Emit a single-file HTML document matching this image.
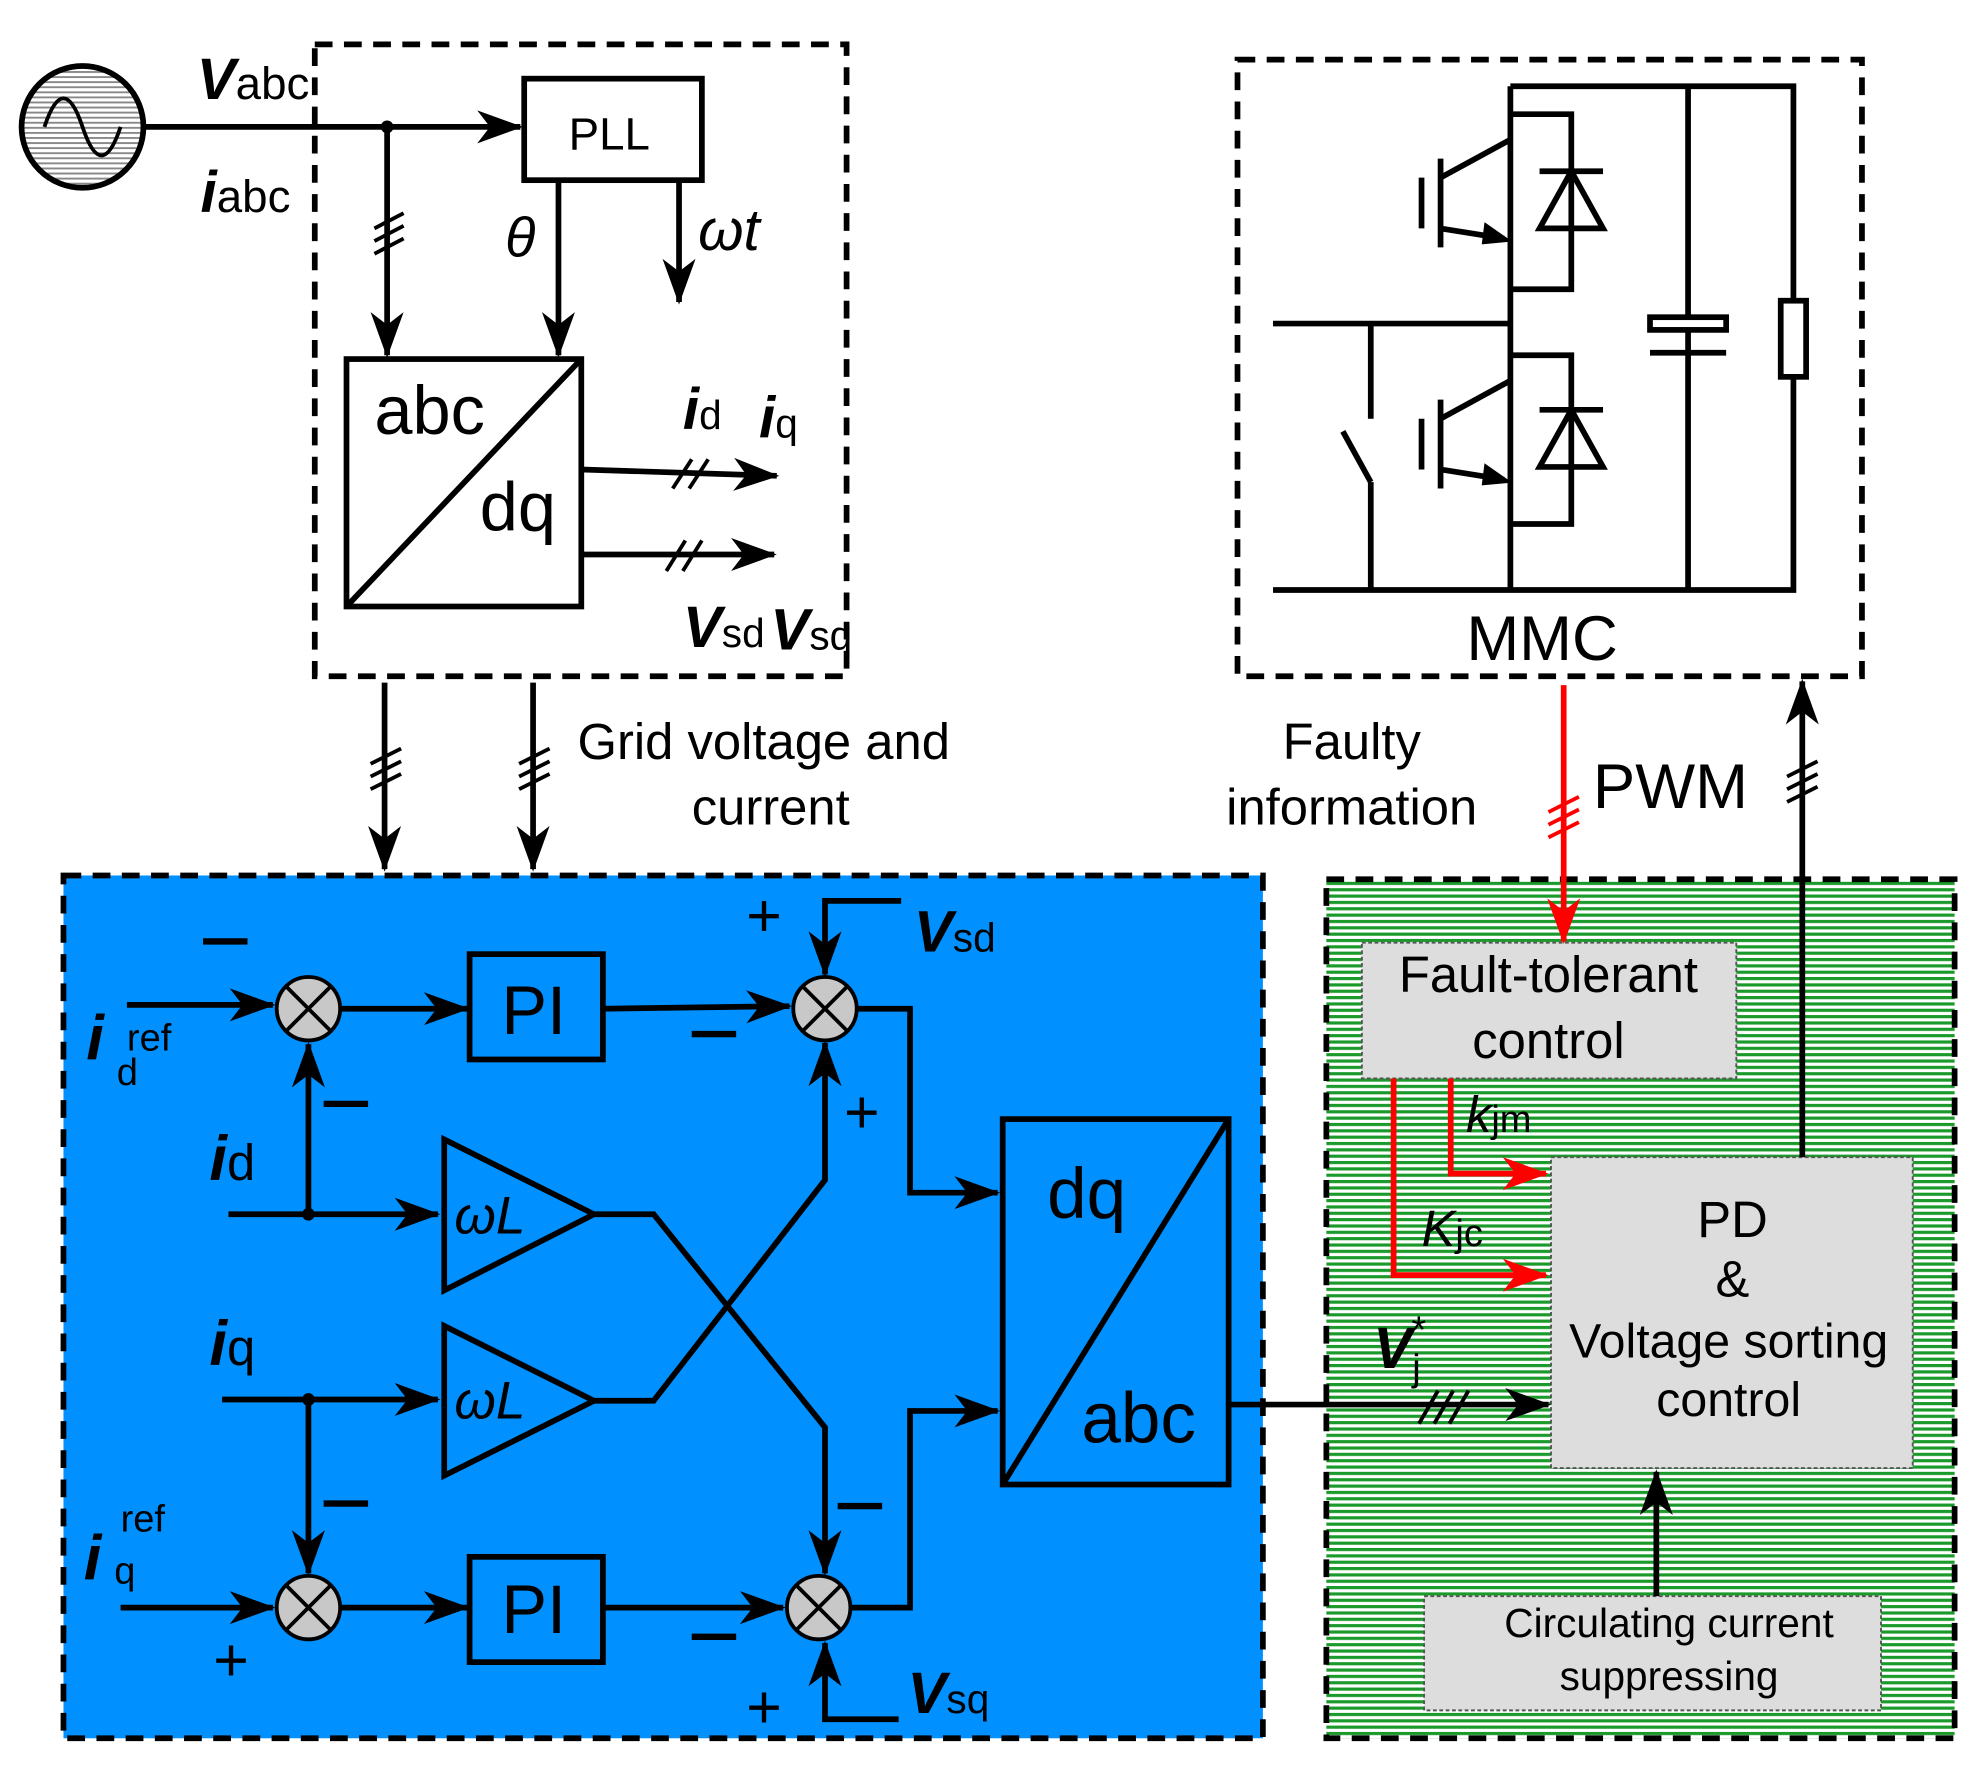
<!DOCTYPE html>
<html><head><meta charset="utf-8"><style>
html,body{margin:0;padding:0;background:#fff}
svg{display:block}
text{font-family:"Liberation Sans",Arial,sans-serif}
</style></head><body>
<svg width="1980" height="1770" viewBox="0 0 1560 1395" preserveAspectRatio="none" xmlns="http://www.w3.org/2000/svg">
<defs>
<marker id="a" viewBox="-34 -14 36 28" refX="0" refY="0" markerWidth="36" markerHeight="28" orient="auto" markerUnits="userSpaceOnUse"><path d="M-34,-13 L2,0 L-34,13 L-24,0 Z" fill="#000"/></marker>
<marker id="ar" viewBox="-34 -14 36 28" refX="0" refY="0" markerWidth="36" markerHeight="28" orient="auto" markerUnits="userSpaceOnUse"><path d="M-34,-13 L2,0 L-34,13 L-24,0 Z" fill="#f00"/></marker>
<pattern id="g" width="6" height="5" patternUnits="userSpaceOnUse"><rect width="6" height="5" fill="#fff"/><rect width="6" height="2.5" fill="#1a9a2a"/></pattern>
<pattern id="h" width="4" height="4" patternUnits="userSpaceOnUse"><rect width="4" height="4" fill="#fff"/><rect width="4" height="1.5" fill="#888"/></pattern>
</defs>
<g stroke="#000" stroke-width="4.5" fill="none">
<circle cx="65" cy="100" r="48" fill="url(#h)"/>
<path d="M35,100 C45,70 55,70 65,100 C75,130 85,130 95,100" stroke-width="3"/>
<line x1="113" y1="100" x2="410" y2="100" marker-end="url(#a)"/>
<rect x="248" y="35" width="419" height="498" stroke-dasharray="14,9"/>
<rect x="413" y="62" width="140" height="80"/>
<line x1="305" y1="100" x2="305" y2="280" marker-end="url(#a)"/>
<line x1="440" y1="142" x2="440" y2="280" marker-end="url(#a)"/>
<line x1="535" y1="142" x2="535" y2="238" marker-end="url(#a)"/>
<g stroke-width="3"><line x1="295" y1="180" x2="318" y2="168"/><line x1="295" y1="190" x2="318" y2="178"/><line x1="295" y1="200" x2="318" y2="188"/></g>
<rect x="273" y="283" width="185" height="195"/>
<line x1="273" y1="478" x2="458" y2="283"/>
<line x1="458" y1="370" x2="612" y2="375" marker-end="url(#a)"/>
<line x1="458" y1="437" x2="610" y2="437" marker-end="url(#a)"/>
<g stroke-width="3"><line x1="530" y1="385" x2="545" y2="362"/><line x1="543" y1="385" x2="558" y2="362"/><line x1="525" y1="450" x2="540" y2="426"/><line x1="538" y1="450" x2="553" y2="426"/></g>
<line x1="303" y1="538" x2="303" y2="685" marker-end="url(#a)"/>
<line x1="420" y1="538" x2="420" y2="685" marker-end="url(#a)"/>
<g stroke-width="3"><line x1="292" y1="602" x2="316" y2="590"/><line x1="292" y1="612" x2="316" y2="600"/><line x1="292" y1="622" x2="316" y2="610"/><line x1="409" y1="602" x2="433" y2="590"/><line x1="409" y1="612" x2="433" y2="600"/><line x1="409" y1="622" x2="433" y2="610"/></g>
<rect x="975" y="47" width="492" height="486" stroke-dasharray="14,9"/>
<path d="M1190,68 H1413 V465 H1003"/>
<line x1="1190" y1="68" x2="1190" y2="465"/>
<line x1="1330" y1="68" x2="1330" y2="465"/>
<line x1="1003" y1="255" x2="1190" y2="255"/>
<path d="M1080,255 V330 M1058,340 L1080,380 M1080,380 V465"/>
<rect x="1403" y="237" width="20" height="60" fill="#fff"/>
<line x1="1300" y1="255" x2="1360" y2="255"/><line x1="1300" y1="278" x2="1360" y2="278"/>
<rect x="1300" y="250" width="60" height="10" fill="#fff"/>
<path d="M1190,90 H1238 V228 H1190"/>
<path d="M1190,280 H1238 V413 H1190"/>
<path d="M1213,180 L1238,135 L1263,180 Z M1213,135 H1263"/>
<path d="M1213,368 L1238,323 L1263,368 Z M1213,323 H1263"/>
<path d="M1120,140 V180 M1135,125 V195 M1135,140 L1190,110 M1135,180 L1185,188"/>
<path d="M1120,330 V370 M1135,315 V385 M1135,330 L1190,300 M1135,370 L1185,378"/>
<path d="M1170,176 L1190,190 L1168,192 Z M1170,366 L1190,380 L1168,382 Z" fill="#000" stroke-width="1"/>
</g>
<rect x="50" y="690" width="945" height="680" fill="#0090ff" stroke="#000" stroke-width="4.5" stroke-dasharray="14,9"/>
<rect x="1045" y="693" width="495" height="677" fill="url(#g)" stroke="#000" stroke-width="4.5" stroke-dasharray="14,9"/>
<rect x="1073" y="743" width="295" height="107" fill="#ddd" stroke="#555" stroke-width="1.5" stroke-dasharray="3,2"/>
<rect x="1222" y="912" width="285" height="245" fill="#ddd" stroke="#555" stroke-width="1.5" stroke-dasharray="3,2"/>
<rect x="1122" y="1258" width="360" height="90" fill="#ddd" stroke="#555" stroke-width="1.5" stroke-dasharray="3,2"/>
<g stroke="#000" stroke-width="4.5" fill="none">
<line x1="1420" y1="912" x2="1420" y2="537" marker-end="url(#a)"/>
<g stroke-width="3"><line x1="1408" y1="612" x2="1432" y2="600"/><line x1="1408" y1="622" x2="1432" y2="610"/><line x1="1408" y1="632" x2="1432" y2="620"/></g>
</g>
<g stroke="#f00" stroke-width="4.5" fill="none">
<line x1="1232" y1="540" x2="1232" y2="742" marker-end="url(#ar)"/>
<g stroke-width="3"><line x1="1220" y1="640" x2="1244" y2="628"/><line x1="1220" y1="650" x2="1244" y2="638"/><line x1="1220" y1="660" x2="1244" y2="648"/></g>
<path d="M1098,850 V1005 H1218" marker-end="url(#ar)"/>
<path d="M1143,850 V925 H1218" marker-end="url(#ar)"/>
</g>
<g stroke="#000" stroke-width="4.5" fill="none">
<line x1="1305" y1="1258" x2="1305" y2="1160" marker-end="url(#a)"/>
<line x1="968" y1="1107" x2="1220" y2="1107" marker-end="url(#a)"/>
<g stroke-width="3"><line x1="1118" y1="1122" x2="1133" y2="1096"/><line x1="1130" y1="1122" x2="1145" y2="1096"/><line x1="1142" y1="1122" x2="1157" y2="1096"/></g>
<line x1="100" y1="792" x2="215" y2="792" marker-end="url(#a)"/>
<line x1="268" y1="795" x2="368" y2="795" marker-end="url(#a)"/>
<rect x="370" y="752" width="105" height="83"/>
<line x1="475" y1="795" x2="622" y2="793" marker-end="url(#a)"/>
<line x1="180" y1="957" x2="345" y2="957" marker-end="url(#a)"/>
<line x1="243" y1="957" x2="243" y2="823" marker-end="url(#a)"/>
<path d="M350,898 V1017 L468,957 Z"/>
<line x1="175" y1="1103" x2="345" y2="1103" marker-end="url(#a)"/>
<line x1="243" y1="1103" x2="243" y2="1240" marker-end="url(#a)"/>
<path d="M350,1045 V1163 L468,1104 Z"/>
<path d="M468,957 H515 L650,1125 V1240" marker-end="url(#a)"/>
<path d="M468,1104 H515 L650,930 V822" marker-end="url(#a)"/>
<line x1="95" y1="1267" x2="215" y2="1267" marker-end="url(#a)"/>
<line x1="268" y1="1267" x2="368" y2="1267" marker-end="url(#a)"/>
<rect x="370" y="1227" width="105" height="83"/>
<line x1="475" y1="1267" x2="617" y2="1267" marker-end="url(#a)"/>
<path d="M710,710 H650 V768" marker-end="url(#a)"/>
<path d="M708,1355 H650 V1295" marker-end="url(#a)"/>
<path d="M675,795 H717 V940 H786" marker-end="url(#a)"/>
<path d="M670,1267 H717 V1112 H786" marker-end="url(#a)"/>
<rect x="790" y="882" width="178" height="288"/>
<line x1="790" y1="1170" x2="968" y2="882"/>
</g>
<g stroke="#000" stroke-width="3" fill="#c8c8c8">
<circle cx="243" cy="795" r="25"/><circle cx="650" cy="795" r="25"/><circle cx="243" cy="1267" r="25"/><circle cx="645" cy="1267" r="25"/>
<path d="M225,777 L261,813 M261,777 L225,813 M632,777 L668,813 M668,777 L632,813 M225,1249 L261,1285 M261,1249 L225,1285 M627,1249 L663,1285 M663,1249 L627,1285" fill="none"/>
</g>
<g fill="#000" stroke="#000" stroke-width="4"><circle cx="305" cy="100" r="3"/><circle cx="243" cy="957" r="3"/><circle cx="243" cy="1103" r="3"/></g>
<g fill="#000">
<text x="155" y="78" font-size="46" font-weight="bold" font-style="italic">V<tspan font-size="36" font-style="normal" font-weight="normal">abc</tspan></text>
<text x="158" y="167" font-size="46" font-weight="bold" font-style="italic">i<tspan font-size="36" font-style="normal" font-weight="normal">abc</tspan></text>
<text x="448" y="118" font-size="36">PLL</text>
<text x="398" y="202" font-size="44" font-style="italic">θ</text>
<text x="550" y="197" font-size="46" font-style="italic">ωt</text>
<text x="295" y="342" font-size="54">abc</text>
<text x="378" y="418" font-size="54">dq</text>
<text x="538" y="338" font-size="46" font-weight="bold" font-style="italic">i<tspan font-size="32" font-style="normal" font-weight="normal">d</tspan></text>
<text x="598" y="345" font-size="46" font-weight="bold" font-style="italic">i<tspan font-size="32" font-style="normal" font-weight="normal">q</tspan></text>
<text x="538" y="510" font-size="46" font-weight="bold" font-style="italic">V<tspan font-size="32" font-style="normal" font-weight="normal">sd</tspan></text>
<text x="607" y="512" font-size="46" font-weight="bold" font-style="italic">V<tspan font-size="32" font-style="normal" font-weight="normal">sq</tspan></text>
<text x="455" y="598" font-size="40">Grid voltage and</text>
<text x="545" y="650" font-size="40">current</text>
<text x="1065" y="598" font-size="40" text-anchor="middle">Faulty</text>
<text x="1065" y="650" font-size="40" text-anchor="middle">information</text>
<text x="1255" y="637" font-size="50">PWM</text>
<text x="1215" y="520" font-size="50" text-anchor="middle">MMC</text>
<text x="1220" y="782" font-size="40" text-anchor="middle">Fault-tolerant</text>
<text x="1220" y="834" font-size="40" text-anchor="middle">control</text>
<text x="1365" y="975" font-size="40" text-anchor="middle">PD</text>
<text x="1365" y="1022" font-size="40" text-anchor="middle">&amp;</text>
<text x="1362" y="1070" font-size="38" text-anchor="middle">Voltage sorting</text>
<text x="1362" y="1116" font-size="38" text-anchor="middle">control</text>
<text x="1315" y="1290" font-size="32" text-anchor="middle">Circulating current</text>
<text x="1315" y="1332" font-size="32" text-anchor="middle">suppressing</text>
<text x="1155" y="892" font-size="40" font-style="italic">k<tspan font-size="30" font-style="normal">jm</tspan></text>
<text x="1120" y="982" font-size="40" font-style="italic">K<tspan font-size="30" font-style="normal">jc</tspan></text>
<text x="1082" y="1078" font-size="46" font-weight="bold" font-style="italic">V<tspan font-size="30" font-style="normal" font-weight="normal" dy="10">j</tspan></text>
<text x="1112" y="1058" font-size="30">*</text>
<text x="395" y="815" font-size="54">PI</text>
<text x="395" y="1287" font-size="54">PI</text>
<text x="358" y="972" font-size="42" font-style="italic">ωL</text>
<text x="358" y="1118" font-size="42" font-style="italic">ωL</text>
<text x="825" y="960" font-size="56">dq</text>
<text x="852" y="1137" font-size="56">abc</text>
<text x="68" y="835" font-size="50" font-weight="bold" font-style="italic">i</text>
<text x="92" y="855" font-size="30">d</text><text x="100" y="828" font-size="30">ref</text>
<text x="66" y="1245" font-size="50" font-weight="bold" font-style="italic">i</text>
<text x="90" y="1248" font-size="30">q</text><text x="95" y="1207" font-size="30">ref</text>
<text x="165" y="930" font-size="50" font-weight="bold" font-style="italic">i<tspan font-size="40" font-style="normal" font-weight="normal">d</tspan></text>
<text x="165" y="1076" font-size="50" font-weight="bold" font-style="italic">i<tspan font-size="40" font-style="normal" font-weight="normal">q</tspan></text>
<text x="720" y="750" font-size="46" font-weight="bold" font-style="italic">V<tspan font-size="32" font-style="normal" font-weight="normal">sd</tspan></text>
<text x="715" y="1350" font-size="46" font-weight="bold" font-style="italic">V<tspan font-size="32" font-style="normal" font-weight="normal">sq</tspan></text>
<text x="588" y="738" font-size="48">+</text>
<text x="665" y="893" font-size="48">+</text>
<text x="168" y="1325" font-size="48">+</text>
<text x="588" y="1362" font-size="48">+</text>
</g>
<g stroke="#000" stroke-width="5">
<line x1="160" y1="742" x2="195" y2="742"/>
<line x1="255" y1="870" x2="290" y2="870"/>
<line x1="545" y1="815" x2="580" y2="815"/>
<line x1="255" y1="1185" x2="290" y2="1185"/>
<line x1="660" y1="1187" x2="695" y2="1187"/>
<line x1="545" y1="1290" x2="580" y2="1290"/>
</g>
</svg>
</body></html>
